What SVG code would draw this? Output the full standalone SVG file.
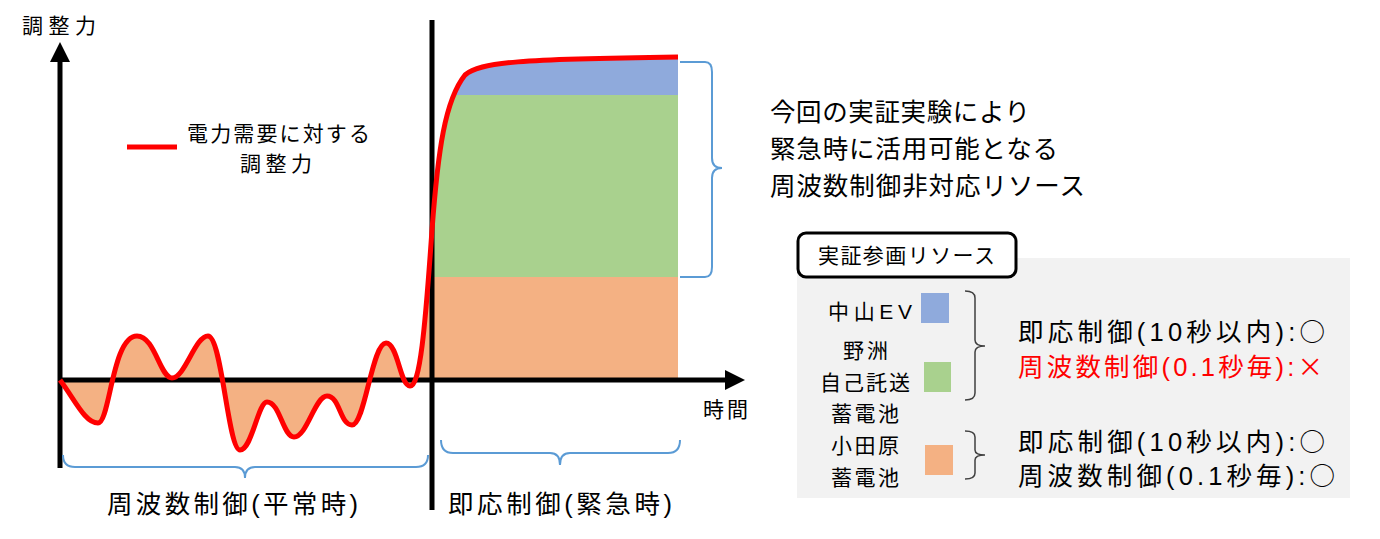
<svg xmlns="http://www.w3.org/2000/svg" width="1380" height="539" viewBox="0 0 1380 539">
<style>
text{font-family:"Liberation Sans","Noto Sans CJK JP",sans-serif;fill:#000}
.s20{font-size:21px}.s24{font-size:25.5px}
.cj{font-family:"Noto Sans CJK JP",sans-serif}
.br{fill:none;stroke:#5b9bd5;stroke-width:2}
.bk{fill:none;stroke:#404040;stroke-width:1.5}
</style>
<defs>
<marker id="ar" viewBox="0 0 10 10" refX="5" refY="5" markerWidth="4" markerHeight="4" orient="auto"><path d="M0,0L10,5L0,10z" fill="#000"/></marker>
<clipPath id="cl"><path d="M432,230 C438,150 445,100 465,75 C480,62 520,59 680,57 L680,380 L432,380Z"/></clipPath>
</defs>
<g id="fills">
<path d="M60,380 C75,400 85,423 98,423 C110,423 112,336 137,336 C155,336 160,378 172,378 C185,378 195,336 208,336 C222,336 228,450 240,450 C252,450 258,402 267,402 C280,402 283,437 294,437 C307,437 315,396 327,396 C340,396 340,425 352,425 C365,425 372,343 386,343 C398,343 400,386 410,386 C420,386 425,330 432,230 L432,380Z" fill="#f4b183"/>
<g clip-path="url(#cl)">
<rect x="432" y="277" width="246" height="103" fill="#f4b183"/>
<rect x="432" y="95" width="246" height="182" fill="#a9d18e"/>
<rect x="432" y="40" width="246" height="55" fill="#8faadc"/>
</g>
</g>
<g id="axes" stroke="#000" stroke-width="5">
<line x1="60" y1="468" x2="60" y2="52" marker-end="url(#ar)"/>
<line x1="60" y1="380" x2="735" y2="380" marker-end="url(#ar)"/>
<line x1="432" y1="20" x2="432" y2="510"/>
</g>
<g id="connectors">
<path d="M60,380 C75,400 85,423 98,423 C110,423 112,336 137,336 C155,336 160,378 172,378 C185,378 195,336 208,336 C222,336 228,450 240,450 C252,450 258,402 267,402 C280,402 283,437 294,437 C307,437 315,396 327,396 C340,396 340,425 352,425 C365,425 372,343 386,343 C398,343 400,386 410,386 C420,386 425,330 432,230 C438,150 445,100 465,75 C480,62 520,59 678,57" fill="none" stroke="#ff0000" stroke-width="5"/>
<path class="br" d="M63,455 Q63,467 75,467 L235,467 Q245,467 245,478 Q245,467 255,467 L416,467 Q428,467 428,455"/>
<path class="br" d="M441,440 Q441,453 453,453 L550,453 Q560,453 560,465 Q560,453 570,453 L668,453 Q680,453 680,440"/>
<path class="br" d="M680,62 L705,62 Q712,62 712,72 L712,158 Q712,168 722,168 Q712,168 712,178 L712,267 Q712,277 705,277 L680,277"/>
</g>
<g id="legend">
<line x1="127" y1="147" x2="177" y2="147" stroke="#ff0000" stroke-width="5"/>
<text class="s20" x="187" y="141" textLength="183">電力需要に対する</text>
<text class="s20" x="240" y="171" textLength="72">調整力</text>
</g>
<text class="s20" x="22" y="33" textLength="74">調整力</text>
<text class="s20" x="703" y="417" textLength="45">時間</text>
<text class="s24" x="107" y="513" textLength="251">周波数制御(平常時)</text>
<text class="s24" x="448" y="513" textLength="224">即応制御(緊急時)</text>
<g id="note" class="s24">
<text x="770" y="121" textLength="260">今回の実証実験により</text>
<text x="770" y="158" textLength="288">緊急時に活用可能となる</text>
<text x="770" y="195" textLength="315">周波数制御非対応リソース</text>
</g>
<g id="panel">
<rect x="797" y="258" width="553" height="240" fill="#f2f2f2"/>
<rect x="798" y="233" width="218" height="44" rx="8" fill="#fff" stroke="#000" stroke-width="3"/>
<text class="s20" x="818" y="263" textLength="177">実証参画リソース</text>
<g class="s20">
<text x="828" y="319" textLength="84">中山EV</text>
<text x="843" y="358" textLength="45">野洲</text>
<text x="820" y="390" textLength="90">自己託送</text>
<text x="831" y="421" textLength="68">蓄電池</text>
<text x="831" y="453" textLength="68">小田原</text>
<text x="831" y="485" textLength="68">蓄電池</text>
</g>
<rect x="921" y="293" width="28" height="30" fill="#8faadc"/>
<rect x="924" y="362" width="27" height="30" fill="#a9d18e"/>
<rect x="925" y="445" width="28" height="30" fill="#f4b183"/>
<path class="bk" d="M965,291 Q975,291 975,298 L975,340 Q975,346 985,346 Q975,346 975,352 L975,393 Q975,400 965,400"/>
<path class="bk" d="M965,431 Q975,431 975,437 L975,450 Q975,455 985,455 Q975,455 975,460 L975,473 Q975,479 965,479"/>
<g class="s24">
<text x="1018" y="341" textLength="307">即応制御(10秒以内):<tspan class="cj">○</tspan></text>
<text x="1018" y="376" textLength="305" style="fill:#ff0000">周波数制御(0.1秒毎):<tspan class="cj">×</tspan></text>
<text x="1018" y="451" textLength="307">即応制御(10秒以内):<tspan class="cj">○</tspan></text>
<text x="1018" y="485" textLength="317">周波数制御(0.1秒毎):<tspan class="cj">○</tspan></text>
</g>
</g>
</svg>
